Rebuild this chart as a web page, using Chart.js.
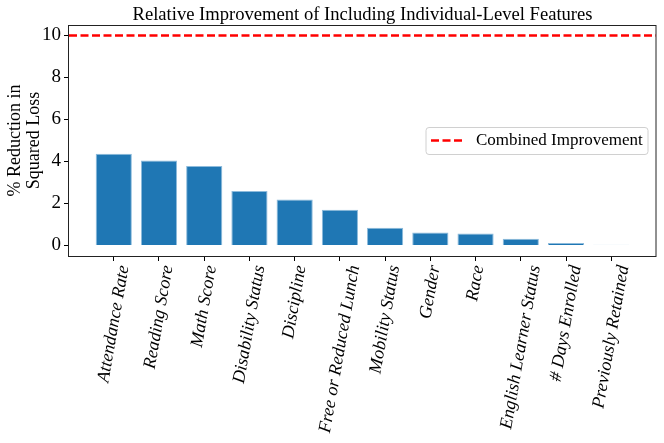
<!DOCTYPE html>
<html>
<head>
<meta charset="utf-8">
<script src="https://cdn.jsdelivr.net/npm/chart.js@4.4.1/dist/chart.umd.min.js"></script>
<style>
html,body{margin:0;padding:0;background:#fff;}
#wrap{width:664px;height:443px;}
</style>
</head>
<body>
<div id="wrap"><canvas id="c" width="664" height="443"></canvas></div>
<script>
// ---- data ----
const categories = [
  'Attendance Rate', 'Reading Score', 'Math Score', 'Disability Status',
  'Discipline', 'Free or Reduced Lunch', 'Mobility Status', 'Gender',
  'Race', 'English Learner Status', '# Days Enrolled', 'Previously Retained'
];
const reductions = [4.37, 4.05, 3.79, 2.60, 2.19, 1.70, 0.85, 0.62, 0.57, 0.32, 0.12, 0.03];
const combinedImprovement = 10;
const yTicks = [0, 2, 4, 6, 8, 10];
const titleText = 'Relative Improvement of Including Individual-Level Features';
const yLabelLines = ['% Reduction in', 'Squared Loss'];
const legendLabel = 'Combined Improvement';

// ---- layout ----
const W = 664, H = 443;
const AREA = {left: 69, right: 656, top: 25, bottom: 256};
const FONT = '"Liberation Serif", "Times New Roman", serif';
const xMin = -0.99, xMax = categories.length - 1 + 0.99;
const yMin = -0.5, yMax = 10.5;
const DASH = [8, 3.5];
const RED = '#ff0000';
const BLUE = '#1f77b4';

const decor = {
  id: 'decor',
  afterDraw(chart) {
    const {ctx, chartArea: a, scales} = chart;
    ctx.save();
    // frame
    ctx.strokeStyle = '#222';
    ctx.lineWidth = 1;
    ctx.strokeRect(Math.round(a.left) - 0.5, Math.round(a.top) + 0.5,
                   Math.round(a.right - a.left) + 0.5, Math.round(a.bottom - a.top));
    // title
    ctx.fillStyle = '#000';
    ctx.font = '18.6px ' + FONT;
    ctx.textAlign = 'center';
    ctx.textBaseline = 'alphabetic';
    ctx.fillText(titleText, (a.left + a.right) / 2, a.top - 5);
    // y label
    ctx.save();
    ctx.translate(0, (a.top + a.bottom) / 2);
    ctx.rotate(-Math.PI / 2);
    ctx.textAlign = 'center';
    ctx.textBaseline = 'middle';
    ctx.font = '18px ' + FONT;
    ctx.fillText(yLabelLines[0], 0, 15);
    ctx.fillText(yLabelLines[1], 0, 34);
    ctx.restore();
    // x tick labels (rotated 80deg, bounding box centred on tick)
    ctx.font = 'italic 18px ' + FONT;
    const th = 80 * Math.PI / 180;
    categories.forEach((lab, i) => {
      const tx = scales.x.getPixelForValue(i);
      const w = ctx.measureText(lab).width;
      const px = tx + w * Math.cos(th) / 2;
      const py = a.bottom + 8 + 9 * Math.cos(th);
      ctx.save();
      ctx.translate(px, py);
      ctx.rotate(-th);
      ctx.textAlign = 'right';
      ctx.textBaseline = 'middle';
      ctx.fillText(lab, 0, 0);
      ctx.restore();
    });
    // legend
    const lx = 426, ly = 127.5, lw = 222, lh = 27;
    ctx.beginPath();
    ctx.roundRect(lx, ly, lw, lh, 3);
    ctx.fillStyle = 'rgba(255,255,255,0.8)';
    ctx.fill();
    ctx.strokeStyle = '#d0d0d0';
    ctx.lineWidth = 1;
    ctx.stroke();
    ctx.beginPath();
    ctx.setLineDash(DASH);
    ctx.strokeStyle = RED;
    ctx.lineWidth = 2.5;
    ctx.moveTo(431, 140.5);
    ctx.lineTo(463, 140.5);
    ctx.stroke();
    ctx.setLineDash([]);
    ctx.fillStyle = '#000';
    ctx.font = '17px ' + FONT;
    ctx.textAlign = 'left';
    ctx.textBaseline = 'middle';
    ctx.fillText(legendLabel, 476, 141);
    ctx.restore();
  }
};

new Chart(document.getElementById('c'), {
  data: {
    datasets: [
      {
        type: 'bar',
        label: 'Reduction',
        data: reductions.map((v, i) => ({x: i, y: v})),
        backgroundColor: BLUE,
        borderColor: '#8dbbdc',
        borderWidth: 1,
        categoryPercentage: 0.8,
        barPercentage: 1.0,
        order: 2
      },
      {
        type: 'line',
        label: legendLabel,
        data: [{x: xMin, y: combinedImprovement}, {x: xMax, y: combinedImprovement}],
        borderColor: RED,
        borderWidth: 2.5,
        borderDash: DASH,
        pointRadius: 0,
        fill: false,
        order: 1
      }
    ]
  },
  options: {
    responsive: false,
    animation: false,
    devicePixelRatio: 1,
    layout: {padding: {top: AREA.top, right: W - AREA.right, left: 0, bottom: 0}},
    plugins: {legend: {display: false}, title: {display: false}, tooltip: {enabled: false}},
    scales: {
      x: {
        type: 'linear',
        offset: false,
        min: xMin,
        max: xMax,
        afterBuildTicks: s => { s.ticks = categories.map((_, i) => ({value: i})); },
        afterFit: s => { s.height = H - AREA.bottom; },
        ticks: {display: false},
        grid: {offset: false, drawOnChartArea: false, drawTicks: true, tickLength: 5, color: '#000', lineWidth: 1},
        border: {display: false}
      },
      y: {
        type: 'linear',
        min: yMin,
        max: yMax,
        afterBuildTicks: s => { s.ticks = yTicks.map(v => ({value: v})); },
        afterFit: s => { s.width = AREA.left; },
        ticks: {color: '#000', font: {family: FONT, size: 19}, padding: 3, callback: v => String(v)},
        grid: {drawOnChartArea: false, drawTicks: true, tickLength: 5, color: '#000', lineWidth: 1},
        border: {display: false}
      }
    }
  },
  plugins: [decor]
});
</script>
</body>
</html>
